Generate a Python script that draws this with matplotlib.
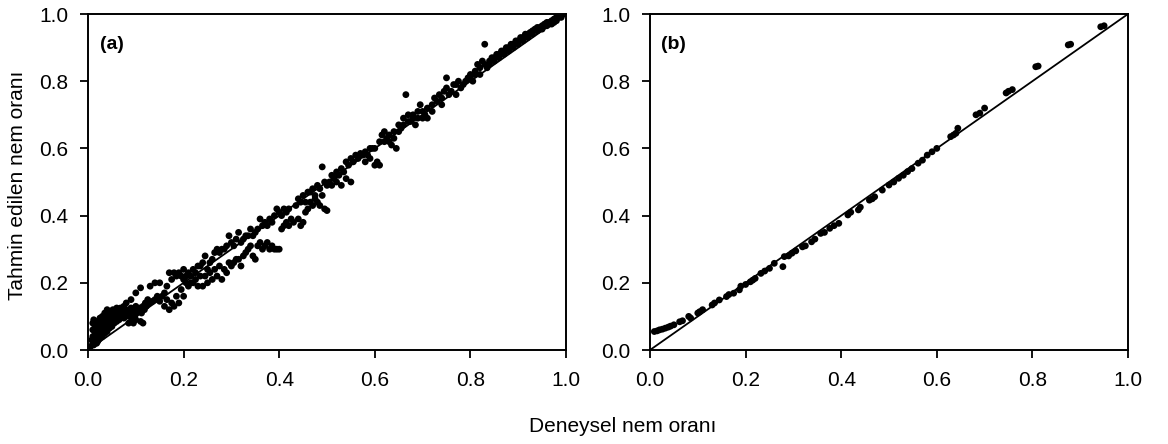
import matplotlib
matplotlib.use("Agg")
import matplotlib.pyplot as plt

plt.rcParams['font.family'] = ['Liberation Sans', 'DejaVu Sans']

# ---- data panel (a) ----
pts_a = [(0.005,0.01),(0.008,0.03),(0.01,0.02),(0.01,0.04),(0.01,0.06),(0.01,0.08),(0.012,0.09),(0.015,0.03),(0.015,0.05),(0.015,0.07),
(0.02,0.025),(0.02,0.045),(0.02,0.065),(0.02,0.085),(0.025,0.035),(0.025,0.055),(0.025,0.075),(0.025,0.095),(0.03,0.04),(0.03,0.06),
(0.03,0.08),(0.03,0.1),(0.035,0.05),(0.035,0.07),(0.035,0.09),(0.035,0.11),(0.04,0.055),(0.04,0.075),(0.04,0.095),(0.04,0.12),
(0.045,0.065),(0.045,0.085),(0.045,0.105),(0.05,0.07),(0.05,0.09),(0.05,0.115),(0.055,0.08),(0.055,0.1),(0.06,0.085),(0.06,0.105),
(0.06,0.125),(0.065,0.09),(0.065,0.11),(0.07,0.1),(0.07,0.12),(0.075,0.095),(0.075,0.13),(0.08,0.1),(0.08,0.12),(0.08,0.14),
(0.085,0.11),(0.085,0.08),(0.09,0.125),(0.09,0.085),(0.09,0.15),(0.095,0.115),(0.095,0.08),(0.1,0.13),(0.1,0.09),(0.1,0.17),
(0.105,0.12),(0.11,0.085),(0.11,0.185),(0.115,0.13),(0.115,0.08),(0.12,0.14),(0.125,0.15),(0.13,0.19),(0.135,0.145),(0.14,0.2),
(0.145,0.16),(0.15,0.2),(0.155,0.16),(0.16,0.13),(0.165,0.15),(0.17,0.12),(0.17,0.23),(0.175,0.14),(0.18,0.13),(0.18,0.23),
(0.185,0.16),(0.19,0.14),(0.19,0.23),(0.195,0.22),(0.2,0.21),(0.2,0.24),(0.205,0.2),(0.21,0.19),(0.21,0.23),(0.215,0.22),
(0.22,0.2),(0.22,0.24),(0.225,0.21),(0.23,0.19),(0.23,0.25),(0.235,0.22),(0.24,0.19),(0.24,0.26),(0.245,0.28),(0.25,0.2),
(0.25,0.24),(0.255,0.23),(0.26,0.21),(0.26,0.27),(0.265,0.29),(0.27,0.22),(0.27,0.3),(0.275,0.25),(0.28,0.21),(0.28,0.3),
(0.285,0.24),(0.29,0.23),(0.29,0.31),(0.295,0.34),(0.3,0.25),(0.3,0.32),(0.305,0.26),(0.31,0.27),(0.31,0.33),(0.315,0.35),
(0.32,0.25),(0.32,0.32),(0.325,0.28),(0.33,0.29),(0.33,0.34),(0.335,0.3),(0.34,0.31),(0.34,0.36),(0.345,0.28),(0.35,0.27),
(0.35,0.35),(0.355,0.31),(0.36,0.32),(0.36,0.39),(0.365,0.37),(0.37,0.31),(0.37,0.38),(0.375,0.32),(0.38,0.3),(0.38,0.39),
(0.385,0.31),(0.39,0.3),(0.39,0.4),(0.395,0.42),(0.4,0.3),(0.4,0.41),(0.405,0.36),(0.41,0.37),(0.41,0.42),(0.415,0.38),
(0.42,0.37),(0.42,0.42),(0.43,0.38),(0.44,0.39),(0.44,0.45),(0.445,0.37),(0.45,0.38),(0.45,0.46),(0.455,0.41),(0.46,0.42),
(0.46,0.47),(0.465,0.44),(0.47,0.43),(0.47,0.48),(0.475,0.45),(0.48,0.44),(0.48,0.49),(0.485,0.43),(0.49,0.545),(0.49,0.46),
(0.495,0.42),(0.5,0.49),(0.5,0.415),(0.51,0.49),(0.51,0.52),(0.52,0.5),(0.52,0.53),(0.53,0.49),(0.53,0.54),(0.54,0.51),
(0.54,0.56),(0.55,0.5),(0.55,0.57),(0.56,0.58),(0.57,0.585),(0.58,0.59),(0.58,0.56),(0.59,0.6),(0.59,0.57),(0.6,0.55),
(0.6,0.6),(0.605,0.56),(0.61,0.55),(0.615,0.64),(0.62,0.65),(0.625,0.63),(0.63,0.62),(0.635,0.61),(0.64,0.63),(0.645,0.6),
(0.65,0.67),(0.655,0.66),(0.66,0.69),(0.665,0.76),(0.67,0.7),(0.675,0.68),(0.68,0.7),(0.685,0.67),(0.69,0.71),(0.695,0.73),
(0.7,0.69),(0.705,0.7),(0.71,0.69),(0.71,0.72),(0.72,0.73),(0.73,0.74),(0.735,0.76),(0.74,0.75),(0.75,0.78),(0.75,0.81),
(0.76,0.77),(0.765,0.79),(0.77,0.76),(0.775,0.8),(0.78,0.78),(0.79,0.8),(0.8,0.81),(0.8,0.82),(0.81,0.83),(0.815,0.85),
(0.82,0.84),(0.825,0.86),(0.83,0.91),(0.83,0.85),(0.84,0.86),(0.845,0.87),(0.85,0.87),(0.855,0.88),(0.86,0.88),(0.865,0.89),
(0.87,0.89),(0.875,0.9),(0.88,0.9),(0.885,0.91),(0.89,0.91),(0.895,0.92),(0.9,0.92),(0.905,0.93),(0.91,0.93),(0.915,0.94),
(0.92,0.94),(0.925,0.945),(0.93,0.95),(0.935,0.955),(0.94,0.96),(0.945,0.96),(0.95,0.965),(0.955,0.97),(0.96,0.975),(0.965,0.975),
(0.97,0.98),(0.975,0.985),(0.98,0.99),(0.985,0.99),(0.99,0.995),(0.995,1.0),
# additional readings from dense clusters
(0.012,0.015),(0.018,0.02),(0.022,0.03),(0.028,0.05),(0.032,0.07),(0.038,0.085),(0.042,0.1),(0.048,0.11),(0.052,0.12),(0.058,0.115),
(0.062,0.1),(0.068,0.125),(0.072,0.11),(0.078,0.115),(0.088,0.1),(0.098,0.1),(0.102,0.11),(0.108,0.125),(0.112,0.11),(0.118,0.12),
(0.122,0.13),(0.128,0.14),(0.14,0.15),(0.15,0.145),(0.16,0.17),(0.165,0.19),(0.175,0.21),(0.185,0.22),(0.195,0.18),(0.2,0.16),
(0.205,0.22),(0.215,0.2),(0.225,0.23),(0.235,0.25),(0.245,0.22),(0.255,0.26),(0.265,0.24),(0.275,0.29),(0.285,0.3),(0.295,0.26),
(0.305,0.31),(0.315,0.27),(0.325,0.33),(0.335,0.34),(0.345,0.34),(0.355,0.36),(0.365,0.3),(0.375,0.37),(0.385,0.38),(0.395,0.3),
(0.405,0.4),(0.415,0.41),(0.425,0.39),(0.435,0.43),(0.445,0.44),(0.455,0.44),(0.465,0.47),(0.475,0.46),(0.485,0.48),(0.495,0.5),
(0.505,0.5),(0.515,0.51),(0.525,0.52),(0.535,0.53),(0.545,0.55),(0.555,0.56),(0.565,0.57),(0.575,0.58),(0.585,0.58),(0.595,0.6),
(0.61,0.62),(0.62,0.62),(0.63,0.64),(0.64,0.65),(0.65,0.65),(0.66,0.67),(0.67,0.68),(0.68,0.69),(0.69,0.69),(0.7,0.71),
(0.72,0.71),(0.725,0.75),(0.74,0.73),(0.745,0.77),(0.755,0.76),(0.77,0.79),(0.785,0.79),(0.795,0.81),(0.805,0.8),(0.81,0.82),
(0.82,0.82),(0.835,0.84),(0.84,0.85),(0.85,0.86),(0.86,0.87),(0.87,0.88),(0.88,0.89),(0.89,0.9),(0.9,0.91),(0.91,0.92),
(0.92,0.93),(0.93,0.94),(0.94,0.95),(0.95,0.955),(0.96,0.965),(0.97,0.97),(0.98,0.98),(0.99,0.99),(0.975,0.975),(0.965,0.97)]
exp_a = [p[0] for p in pts_a]
pred_a = [p[1] for p in pts_a]

# ---- data panel (b) ----
exp_b = [0.009,0.015,0.02,0.026,0.032,0.038,0.043,0.05,0.062,0.068,0.081,0.085,0.1,0.104,0.11,0.13,0.135,0.145,0.16,0.165,
         0.175,0.187,0.19,0.2,0.21,0.215,0.22,0.232,0.24,0.25,0.26,0.278,0.281,0.29,0.297,0.305,0.319,0.325,0.338,0.345,
         0.357,0.365,0.376,0.385,0.395,0.414,0.42,0.436,0.44,0.459,0.465,0.47,0.486,0.5,0.51,0.52,0.53,0.539,0.548,0.561,
         0.57,0.58,0.59,0.6,0.629,0.635,0.64,0.644,0.682,0.69,0.7,0.745,0.75,0.758,0.807,0.812,0.875,0.88,0.943,0.95]
pred_b = [0.055,0.057,0.06,0.062,0.065,0.068,0.071,0.075,0.084,0.087,0.1,0.095,0.11,0.114,0.12,0.134,0.14,0.149,0.159,0.165,
          0.169,0.179,0.19,0.195,0.203,0.208,0.213,0.228,0.235,0.243,0.258,0.248,0.278,0.28,0.288,0.295,0.307,0.31,0.322,0.33,
          0.347,0.35,0.362,0.37,0.377,0.402,0.41,0.417,0.425,0.446,0.45,0.456,0.476,0.491,0.5,0.511,0.52,0.531,0.54,0.556,
          0.565,0.58,0.59,0.6,0.635,0.64,0.645,0.66,0.7,0.705,0.72,0.765,0.77,0.775,0.843,0.845,0.908,0.91,0.962,0.965]

ticks = [0.0, 0.2, 0.4, 0.6, 0.8, 1.0]
tick_labels = ["0.0", "0.2", "0.4", "0.6", "0.8", "1.0"]
panel_labels = ["(a)", "(b)"]

fig = plt.figure(figsize=(11.68, 4.44), dpi=100)
ax_a = fig.add_axes([88/1168, 1-350/444, 478/1168, 336/444])
ax_b = fig.add_axes([650/1168, 1-350/444, 478/1168, 336/444])

for ax, xs, ys, lab in [(ax_a, exp_a, pred_a, panel_labels[0]), (ax_b, exp_b, pred_b, panel_labels[1])]:
    ax.scatter(xs, ys, s=24, c='black', edgecolors='none', zorder=3)
    ax.plot([0, 1], [0, 1], color='black', lw=1.3, zorder=2)
    ax.set_xlim(0, 1)
    ax.set_ylim(0, 1)
    ax.set_xticks(ticks)
    ax.set_xticklabels(tick_labels)
    ax.set_yticks(ticks)
    ax.set_yticklabels(tick_labels)
    ax.tick_params(direction='out', length=6, width=1.3, labelsize=15, color='black')
    ax.tick_params(axis='x', pad=9)
    ax.tick_params(axis='y', pad=8)
    for sp in ax.spines.values():
        sp.set_linewidth(1.4)
    ax.text(0.05, 0.908, lab, transform=ax.transAxes, fontsize=14, fontweight='bold',
            ha='center', va='center')

fig.text(623/1168, 1-426/444, "Deneysel nem oranı", ha='center', va='center', fontsize=15)
fig.text(18/1168, 1-185/444, "Tahmin edilen nem oranı", ha='center', va='center', fontsize=15, rotation=90)

fig.savefig("out.png", dpi=100)
